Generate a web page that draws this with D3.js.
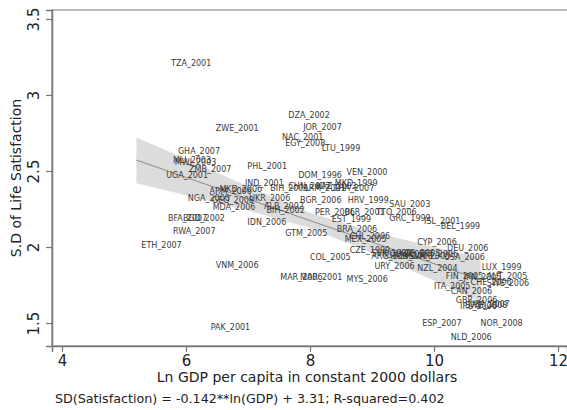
<!DOCTYPE html>
<html>
<head>
<meta charset="utf-8">
<script src="https://cdn.jsdelivr.net/npm/d3@7"></script>
<style>
body{margin:0;background:#fff}
.lbl{font-family:"DejaVu Sans",sans-serif;font-size:8px;fill:#3a3a3a}
.tick text{font-family:"DejaVu Sans",sans-serif;font-size:15px;fill:#222}
.axttl{font-family:"DejaVu Sans",sans-serif;font-size:14px;fill:#222}
</style>
</head>
<body>
<svg id="chart" width="567" height="410"></svg>
<script>
// country-year labels, ln GDP per capita, SD of life satisfaction
let countries = ["TZA_2001","ZWE_2001","DZA_2002","JOR_2007","NAC_2001","EGY_2008","LTU_1999","GHA_2007",
  "MLI_2003","MWI_2003","ZMB_2007","UGA_2001","PHL_2001","VEN_2000","DOM_1996","MKD_1999","IND_2001",
  "BIH_2001","CHN_2007","ARM_2001","KAZ_2003","THA_2007","ARM_2006","MKD_2006","NGA_2000","GEO_2008",
  "UKR_2006","MDA_2006","ALB_2002","BIH_2002","BGR_2006","HRV_1999","SAU_2003","PER_2006","BLR_2001",
  "TTO_2006","GRC_1999","EST_1999","ISL_2001","BEL_1999","IDN_2006","BFA_2007","BGD_2002","RWA_2007",
  "ETH_2007","GTM_2005","BRA_2006","MEX_2005","CHL_2006","CYP_2006","DEU_2006","CZE_1999","SVK_1999",
  "POL_2005","KOR_2005","HUN_2008","SVN_2005","PRT_2006","USA_2006","COL_2005","ARG_2006","URY_2006",
  "NZL_2004","LUX_1999","FIN_2005","JPN_2005","AUT_2005","CHE_2006","SWE_2006","ITA_2005","CAN_2006",
  "GBR_2006","USA_2007","IRL_2006","SWE_2008","ESP_2007","NOR_2008","NLD_2006","VNM_2006","MAR_2006",
  "MAR_2001","MYS_2006","PAK_2001"]
let lnGDP = [5.76,6.48,7.65,7.89,7.55,7.60,8.19,5.87,
  5.79,5.82,6.05,5.68,6.99,8.59,7.81,8.40,6.95,
  7.36,7.65,7.89,8.10,8.38,6.38,6.54,6.03,6.42,
  7.02,6.43,7.26,7.30,7.84,8.61,9.28,8.08,8.56,
  9.07,9.28,8.35,9.84,10.11,6.99,5.71,5.95,5.79,
  5.28,7.60,8.43,8.56,8.64,9.73,10.21,8.64,8.99,
  9.20,9.44,9.30,9.60,9.76,10.16,8.00,8.99,9.04,
  9.73,10.77,10.19,10.48,10.85,10.59,10.85,10.00,10.27,
  10.35,10.56,10.42,10.50,9.81,10.75,10.27,6.48,7.52,
  7.84,8.59,6.40]
let sdLS = [3.21,2.78,2.87,2.79,2.72,2.68,2.65,2.63,
  2.57,2.56,2.51,2.47,2.53,2.49,2.47,2.42,2.42,
  2.39,2.40,2.39,2.40,2.39,2.37,2.38,2.32,2.31,
  2.32,2.26,2.27,2.24,2.31,2.31,2.28,2.23,2.23,
  2.23,2.19,2.18,2.17,2.14,2.16,2.19,2.19,2.105,
  2.01,2.09,2.12,2.05,2.07,2.03,1.99,1.98,1.96,
  1.95,1.96,1.94,1.94,1.95,1.93,1.93,1.94,1.875,
  1.86,1.87,1.81,1.80,1.81,1.77,1.76,1.74,1.71,
  1.65,1.625,1.61,1.615,1.50,1.50,1.41,1.88,1.80,
  1.80,1.79,1.47]

// fitted line and 95% band
let fitX = [5.2,6,7,8,9,10,10.75]
let fitY = [2.572,2.458,2.316,2.174,2.032,1.89,1.784]
let bandHi = [2.72,2.58,2.40,2.225,2.10,2.00,1.93]
let bandLo = [2.42,2.34,2.24,2.125,1.96,1.78,1.64]

let xTicks = [4,6,8,10,12]
let yTicks = [1.5,2,2.5,3,3.5]

let svg = d3.select("#chart")
let mLeft = 52, mRight = 567, mTop = 10, mBottom = 346

// 4 -> 62px, 12 -> 558px
let xScale = d3.scaleLinear().domain([3.839,12.145]).range([mLeft,mRight])
let yScale = d3.scaleLinear().domain([1.349,3.559]).range([mBottom,mTop])

// frame
svg.append("rect").attr("x",mLeft).attr("y",mTop)
  .attr("width",mRight-mLeft+5).attr("height",mBottom-mTop)
  .attr("fill","none").attr("stroke","#888").attr("stroke-width",1.2)

// confidence band
let band = fitX.map(function(d,i){return {x:d,lo:bandLo[i],hi:bandHi[i]}})
svg.append("path").datum(band)
  .attr("d",d3.area().x(function(d){return xScale(d.x)})
    .y0(function(d){return yScale(d.lo)}).y1(function(d){return yScale(d.hi)}))
  .attr("fill","#d6d6d6").attr("opacity",0.85)

svg.append("path").datum(fitX.map(function(d,i){return [d,fitY[i]]}))
  .attr("d",d3.line().x(function(d){return xScale(d[0])}).y(function(d){return yScale(d[1])}))
  .attr("fill","none").attr("stroke","#8a8a8a").attr("stroke-width",1)

// labels (marker label sits right of the point)
svg.selectAll(".lbl")
  .data(countries)
  .enter()
  .append("text")
  .attr("class","lbl")
  .attr("x",function(d,i){return xScale(lnGDP[i])})
  .attr("y",function(d,i){return yScale(sdLS[i])})
  .attr("dy","0.35em")
  .text(function(d){return d})

// axes
let x_axis = d3.axisBottom(xScale).tickValues(xTicks).tickSize(6).tickPadding(3).tickFormat(d3.format("d"))
let y_axis = d3.axisLeft(yScale).tickValues(yTicks).tickSize(6).tickPadding(3).tickFormat(d3.format("~g"))

let gx = svg.append("g").attr("transform",`translate(0,${mBottom})`).call(x_axis)
let gy = svg.append("g").attr("transform",`translate(${mLeft},0)`).call(y_axis)
gx.select(".domain").attr("stroke","#777").attr("stroke-width",1.5)
gy.select(".domain").attr("stroke","#777").attr("stroke-width",1.5)
svg.selectAll(".tick line").attr("stroke","#777").attr("stroke-width",1.2)
gy.selectAll(".tick text")
  .attr("transform",function(d){return `rotate(-90,-9,0)`})
  .attr("x",-9).attr("dy","-0.25em").attr("text-anchor","middle")

// titles
svg.append("text").attr("class","axttl")
  .attr("x",307).attr("y",382).attr("text-anchor","middle")
  .text("Ln GDP per capita in constant 2000 dollars")

svg.append("g").attr("transform",`translate(21,178) rotate(-90)`)
  .append("text").attr("class","axttl").attr("text-anchor","middle")
  .text("S.D of Life Satisfaction")

svg.append("text").attr("class","axttl")
  .attr("x",55).attr("y",403).style("font-size","12.7px")
  .text("SD(Satisfaction) = -0.142**ln(GDP) + 3.31; R-squared=0.402")
</script>
</body>
</html>
